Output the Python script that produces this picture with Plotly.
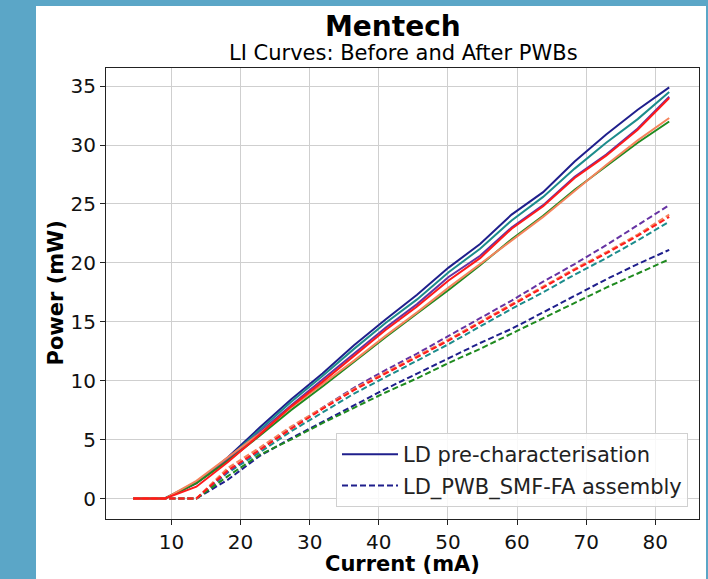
import plotly.graph_objects as go

# ---- data ----
current = [4.5, 9.06, 13.62, 18.18, 22.74, 27.3, 31.86, 36.42, 40.98, 45.54,
           50.1, 54.66, 59.22, 63.78, 68.34, 72.9, 77.46, 82.02]

pre_navy   = [0, 0, 1.3, 3.5, 6.0, 8.4, 10.6, 13.0, 15.2, 17.3, 19.6, 21.6, 24.1, 26.0, 28.6, 30.9, 33.0, 34.9]
pre_teal   = [0, 0, 1.4, 3.4, 5.8, 8.2, 10.4, 12.7, 14.9, 16.9, 19.2, 21.2, 23.6, 25.6, 28.0, 30.2, 32.2, 34.5]
pre_purple = [0, 0, 1.3, 3.3, 5.6, 7.9, 10.1, 12.3, 14.5, 16.5, 18.8, 20.6, 23.0, 24.9, 27.3, 29.2, 31.4, 34.1]
pre_green  = [0, 0, 1.3, 3.2, 5.3, 7.5, 9.5, 11.6, 13.7, 15.7, 17.7, 19.8, 22.0, 24.0, 26.2, 28.2, 30.2, 32.0]
pre_salmon = [0, 0, 1.5, 3.5, 5.5, 7.7, 9.7, 11.7, 13.8, 15.8, 17.9, 19.9, 21.9, 23.9, 26.1, 28.3, 30.4, 32.3]
pre_red    = [0, 0, 1.0, 3.1, 5.4, 7.8, 9.9, 12.1, 14.3, 16.3, 18.5, 20.4, 22.9, 24.8, 27.2, 29.1, 31.3, 34.0]

pwb_navy   = [0, 0, 0, 1.6, 3.6, 5.1, 6.5, 7.9, 9.3, 10.6, 11.9, 13.2, 14.4, 15.8, 17.2, 18.6, 19.9, 21.1]
pwb_teal   = [0, 0, 0, 2.2, 3.9, 5.7, 7.3, 8.9, 10.3, 11.7, 13.1, 14.6, 16.1, 17.5, 19.0, 20.4, 21.9, 23.5]
pwb_purple = [0, 0, 0, 2.3, 4.1, 6.0, 7.7, 9.4, 10.9, 12.3, 13.8, 15.3, 16.8, 18.4, 19.9, 21.5, 23.2, 24.9]
pwb_green  = [0, 0, 0, 1.9, 3.7, 5.0, 6.4, 7.7, 9.0, 10.2, 11.5, 12.7, 14.0, 15.3, 16.6, 17.9, 19.1, 20.3]
pwb_salmon = [0, 0, 0, 2.6, 4.3, 6.1, 7.7, 9.3, 10.7, 12.1, 13.5, 15.0, 16.5, 18.0, 19.5, 20.9, 22.4, 24.1]
pwb_red    = [0, 0, 0, 2.4, 4.1, 5.9, 7.6, 9.2, 10.6, 12.0, 13.4, 14.9, 16.4, 17.9, 19.4, 20.8, 22.3, 23.9]

devices = [
    ("#1f1f8c", pre_navy, pwb_navy),
    ("#1c8c8c", pre_teal, pwb_teal),
    ("#6633a3", pre_purple, pwb_purple),
    ("#1f8a1f", pre_green, pwb_green),
    ("#f5845c", pre_salmon, pwb_salmon),
    ("#ff1a1a", pre_red, pwb_red),
]
legend_names = ["LD pre-characterisation", "LD_PWB_SMF-FA assembly"]

x_ticks = [10, 20, 30, 40, 50, 60, 70, 80]
y_ticks = [0, 5, 10, 15, 20, 25, 30, 35]

FONT = "DejaVu Sans"
fig = go.Figure()
for i, (col, pre, pwb) in enumerate(devices):
    fig.add_trace(go.Scatter(x=current, y=pre, mode="lines",
                             line=dict(color=col, width=2),
                             name=legend_names[0], showlegend=(i == 0),
                             legendgroup="a"))
    fig.add_trace(go.Scatter(x=current, y=pwb, mode="lines",
                             line=dict(color=col, width=2, dash="6px,3px"),
                             name=legend_names[1], showlegend=(i == 0),
                             legendgroup="b"))

# plot area in pixels: x 106..699, y 68..519
L, R, T, B = 106, 699, 68, 519
W, H = 708, 579
pw, ph = R - L, B - T

def px(u):
    return (u - L) / pw

def py(v):
    return (B - v) / ph

fig.add_shape(type="rect", xref="paper", yref="paper",
              x0=px(36), x1=px(706), y0=py(585), y1=py(6),
              fillcolor="white", line=dict(width=0), layer="below")

fig.add_annotation(text="<b>Mentech</b>", xref="paper", yref="paper",
                   x=px(393), y=py(26), showarrow=False,
                   font=dict(family=FONT, size=28, color="black"),
                   xanchor="center", yanchor="middle")
fig.add_annotation(text="LI Curves: Before and After PWBs", xref="paper", yref="paper",
                   x=px(403), y=py(53), showarrow=False,
                   font=dict(family=FONT, size=21, color="black"),
                   xanchor="center", yanchor="middle")
fig.add_annotation(text="<b>Current (mA)</b>", xref="paper", yref="paper",
                   x=px(402.5), y=py(564), showarrow=False,
                   font=dict(family=FONT, size=21, color="black"),
                   xanchor="center", yanchor="middle")
fig.add_annotation(text="<b>Power (mW)</b>", xref="paper", yref="paper",
                   x=px(55), y=py(293.5), showarrow=False, textangle=-90,
                   font=dict(family=FONT, size=21, color="black"),
                   xanchor="center", yanchor="middle")

fig.update_layout(
    width=W, height=H,
    margin=dict(l=L, r=W - R, t=T, b=H - B),
    paper_bgcolor="#5ba6c7",
    plot_bgcolor="white",
    font=dict(family=FONT, size=20, color="#111"),
    legend=dict(x=px(688), y=py(507), xanchor="right", yanchor="bottom",
                bgcolor="rgba(255,255,255,0.85)", bordercolor="#d0d0d0",
                borderwidth=1, font=dict(family=FONT, size=21, color="#222"),
                itemwidth=56, tracegroupgap=1, traceorder="grouped"),
)
fig.update_xaxes(range=[0.54, 86.33], tickvals=x_ticks, ticks="outside", ticklen=5,
                 tickcolor="#222", showline=True, linecolor="#222", linewidth=1.2,
                 mirror=True, showgrid=True, gridcolor="#cfcfcf", gridwidth=1.3,
                 zeroline=False, tickfont=dict(size=20, color="#111"))
fig.update_yaxes(range=[-1.74, 36.54], tickvals=y_ticks, ticks="outside", ticklen=5,
                 tickcolor="#222", showline=True, linecolor="#222", linewidth=1.2,
                 mirror=True, showgrid=True, gridcolor="#cfcfcf", gridwidth=1.3,
                 zeroline=False, tickfont=dict(size=20, color="#111"))

fig.write_html("out.html")
